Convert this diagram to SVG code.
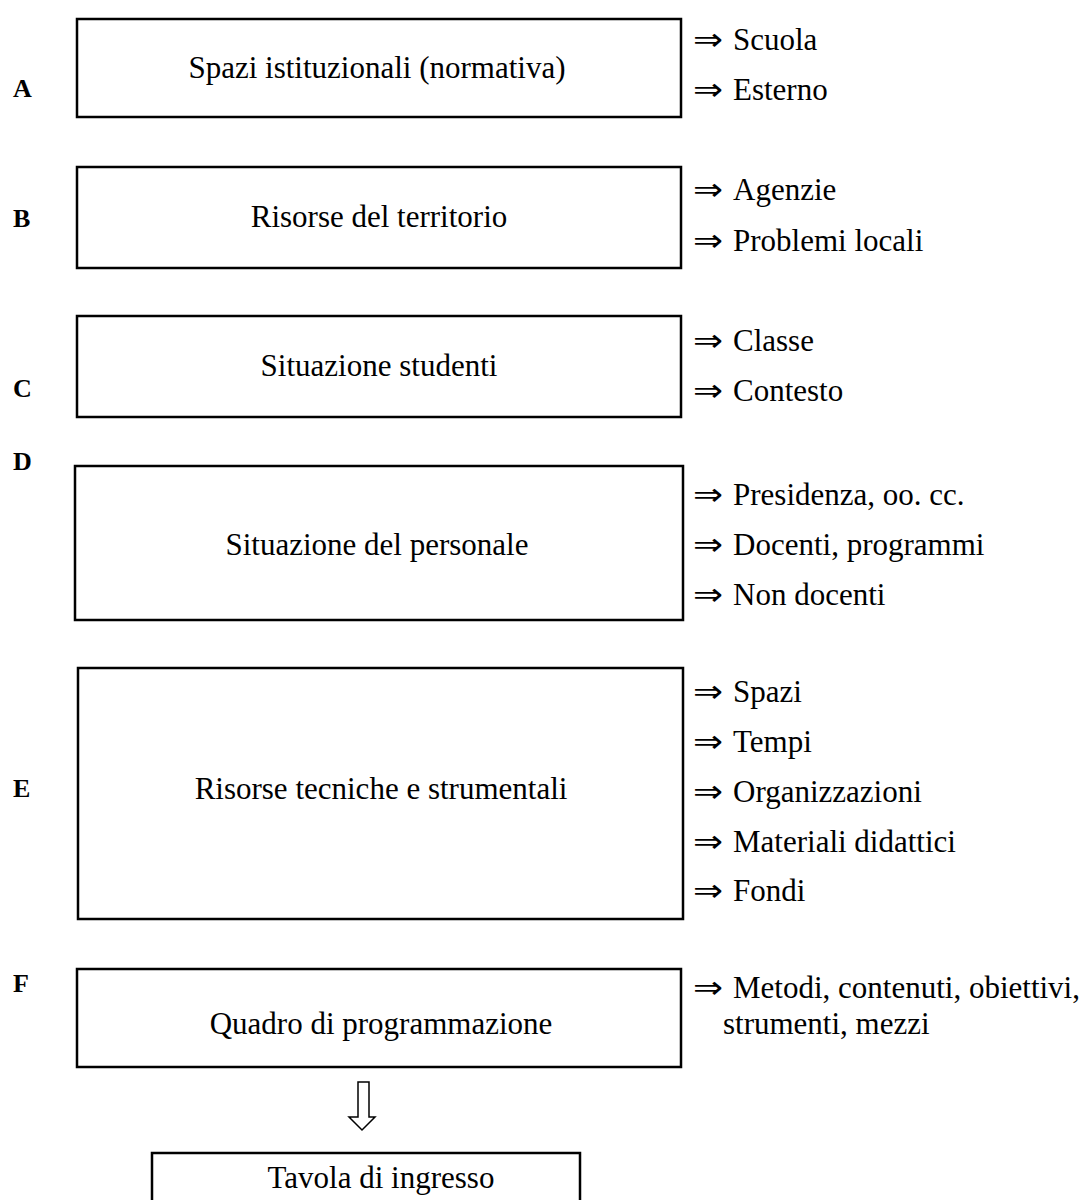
<svg xmlns="http://www.w3.org/2000/svg" width="1091" height="1200" viewBox="0 0 1091 1200">
<style>
.box{fill:#fff;stroke:#000;stroke-width:2.5}
.t{font-family:"Liberation Serif","Times New Roman",serif;font-size:31px;fill:#000}
.c{text-anchor:middle}
.l{font-family:"Liberation Serif","Times New Roman",serif;font-size:26px;font-weight:bold;fill:#000}
</style>
<defs>
<text id="ar" class="t" textLength="30" lengthAdjust="spacingAndGlyphs">⇒</text>
</defs>
<rect width="1091" height="1200" fill="#fff"/>
<g id="nodeA">
<rect class="box" x="77" y="19" width="604" height="98"/>
<text class="t c" x="377" y="78">Spazi istituzionali (normativa)</text>
<text class="l" x="13" y="97">A</text>
<use href="#ar" x="693" y="50"/><text class="t" x="733" y="50">Scuola</text>
<use href="#ar" x="693" y="100"/><text class="t" x="733" y="100">Esterno</text>
</g>
<g id="nodeB">
<rect class="box" x="77" y="167" width="604" height="101"/>
<text class="t c" x="379" y="227">Risorse del territorio</text>
<text class="l" x="13" y="227">B</text>
<use href="#ar" x="693" y="200"/><text class="t" x="733" y="200">Agenzie</text>
<use href="#ar" x="693" y="251"/><text class="t" x="733" y="251">Problemi locali</text>
</g>
<g id="nodeC">
<rect class="box" x="77" y="316" width="604" height="101"/>
<text class="t c" x="379" y="376">Situazione studenti</text>
<text class="l" x="13" y="397">C</text>
<use href="#ar" x="693" y="351"/><text class="t" x="733" y="351">Classe</text>
<use href="#ar" x="693" y="401"/><text class="t" x="733" y="401">Contesto</text>
</g>
<g id="nodeD">
<rect class="box" x="75" y="466" width="608" height="154"/>
<text class="t c" x="377" y="555">Situazione del personale</text>
<text class="l" x="13" y="470">D</text>
<use href="#ar" x="693" y="505"/><text class="t" x="733" y="505">Presidenza, oo. cc.</text>
<use href="#ar" x="693" y="555"/><text class="t" x="733" y="555">Docenti, programmi</text>
<use href="#ar" x="693" y="605"/><text class="t" x="733" y="605">Non docenti</text>
</g>
<g id="nodeE">
<rect class="box" x="78" y="668" width="605" height="251"/>
<text class="t c" x="381" y="799">Risorse tecniche e strumentali</text>
<text class="l" x="13" y="797">E</text>
<use href="#ar" x="693" y="702"/><text class="t" x="733" y="702">Spazi</text>
<use href="#ar" x="693" y="752"/><text class="t" x="733" y="752">Tempi</text>
<use href="#ar" x="693" y="802"/><text class="t" x="733" y="802">Organizzazioni</text>
<use href="#ar" x="693" y="852"/><text class="t" x="733" y="852">Materiali didattici</text>
<use href="#ar" x="693" y="901"/><text class="t" x="733" y="901">Fondi</text>
</g>
<g id="nodeF">
<rect class="box" x="77" y="969" width="604" height="98"/>
<text class="t c" x="381" y="1034">Quadro di programmazione</text>
<text class="l" x="13" y="992">F</text>
<use href="#ar" x="693" y="998"/><text class="t" x="733" y="998">Metodi, contenuti, obiettivi,</text>
<text class="t" x="723" y="1034">strumenti, mezzi</text>
</g>
<g id="connectors">
<path d="M358 1082 V1117 H349 L362 1130 L375 1117 H369 V1082 Z" fill="#fff" stroke="#000" stroke-width="1.5"/>
</g>
<g id="nodeG">
<rect class="box" x="152" y="1153" width="428" height="80"/>
<text class="t c" x="381" y="1188">Tavola di ingresso</text>
</g>
</svg>
